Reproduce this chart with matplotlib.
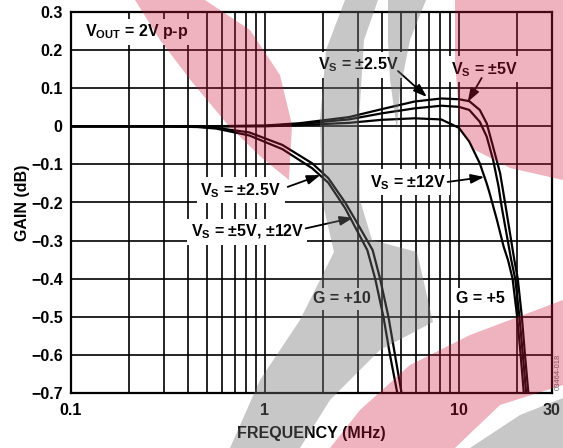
import matplotlib
matplotlib.use('Agg')
import matplotlib.pyplot as plt
from matplotlib.patches import Polygon

plt.rcParams['font.family'] = ['Liberation Sans', 'DejaVu Sans']
plt.rcParams['font.weight'] = 'bold'
plt.rcParams['axes.labelweight'] = 'bold'
plt.rcParams['mathtext.fontset'] = 'custom'
plt.rcParams['mathtext.rm'] = 'Liberation Sans:bold'
plt.rcParams['mathtext.it'] = 'Liberation Sans:bold'
plt.rcParams['mathtext.bf'] = 'Liberation Sans:bold'

# G = +5, three supplies
g5_vs25_freq = [0.1, 0.5, 1.0, 1.5, 2.7, 4.0, 5.9, 8.1, 10.0, 11.3, 12.8, 13.9, 15.0, 16.3, 17.3, 19.3, 20.1, 21.1, 21.9, 22.8]
g5_vs25_gain = [0, 0, 0.002, 0.008, 0.024, 0.045, 0.065, 0.073, 0.071, 0.066, 0.043, 0.008, -0.054, -0.123, -0.202, -0.351, -0.40, -0.50, -0.60, -0.70]
g5_vs5_freq = [0.1, 0.5, 1.0, 1.5, 2.7, 4.0, 5.9, 8.1, 10.0, 11.3, 12.8, 13.9, 15.0, 16.0, 16.6, 18.6, 19.5, 20.5, 21.35, 22.2]
g5_vs5_gain = [0, 0, 0.001, 0.006, 0.018, 0.034, 0.047, 0.054, 0.051, 0.043, 0.012, -0.027, -0.088, -0.158, -0.211, -0.351, -0.40, -0.50, -0.60, -0.70]
g5_vs12_freq = [0.1, 0.5, 1.0, 1.5, 2.7, 4.0, 5.9, 8.1, 10.0, 11.3, 12.8, 13.9, 14.4, 15.7, 17.0, 17.9, 18.9, 19.95, 20.8, 21.6]
g5_vs12_gain = [0, 0, 0, 0.003, 0.009, 0.017, 0.021, 0.018, -0.004, -0.040, -0.097, -0.150, -0.176, -0.246, -0.316, -0.351, -0.40, -0.50, -0.60, -0.70]

# G = +10, two curves
g10_a_freq = [0.1, 0.3, 0.45, 0.56, 0.83, 1.23, 1.75, 2.12, 2.59, 2.92, 3.37, 3.70, 4.08, 4.41, 4.81]
g10_a_gain = [0, 0, -0.002, -0.006, -0.024, -0.060, -0.110, -0.148, -0.215, -0.265, -0.325, -0.40, -0.50, -0.60, -0.70]
g10_b_freq = [0.1, 0.3, 0.45, 0.56, 0.83, 1.23, 1.75, 2.12, 2.59, 2.92, 3.59, 3.92, 4.33, 4.68, 5.06]
g10_b_gain = [0, 0, -0.001, -0.004, -0.016, -0.049, -0.097, -0.136, -0.200, -0.245, -0.325, -0.40, -0.50, -0.60, -0.70]

xticks = [0.1, 1, 10, 30]
xticklabels = ['0.1', '1', '10', '30']
xminor = [0.2, 0.3, 0.4, 0.5, 0.6, 0.7, 0.8, 0.9, 2, 3, 4, 5, 6, 7, 8, 9, 20]
yticks = [-0.7, -0.6, -0.5, -0.4, -0.3, -0.2, -0.1, 0, 0.1, 0.2, 0.3]
yticklabels = ['\u22120.7', '\u22120.6', '\u22120.5', '\u22120.4', '\u22120.3', '\u22120.2', '\u22120.1', '0', '0.1', '0.2', '0.3']

fig = plt.figure(figsize=(5.63, 4.48), dpi=100)
ax = fig.add_axes([71/563, 1 - 393/448, (551.5 - 71)/563, (393 - 12)/448])
ax.set_xscale('log')
ax.set_xlim(0.1, 30)
ax.set_ylim(-0.7, 0.3)
ax.set_xticks(xticks)
ax.set_xticklabels(xticklabels)
ax.set_xticks(xminor, minor=True)
ax.set_xticklabels([], minor=True)
ax.set_yticks(yticks)
ax.set_yticklabels(yticklabels)
ax.tick_params(which='both', length=0, labelsize=11.5)
ax.tick_params(axis='x', pad=7)
ax.tick_params(axis='y', pad=6)
ax.grid(which='both', color='k', lw=1.2)
for s in ax.spines.values():
    s.set_linewidth(1.6)

lw = 1.6
for f, g in [(g5_vs25_freq, g5_vs25_gain), (g5_vs5_freq, g5_vs5_gain),
             (g5_vs12_freq, g5_vs12_gain), (g10_a_freq, g10_a_gain),
             (g10_b_freq, g10_b_gain)]:
    ax.plot(f, g, color='k', lw=lw, solid_joinstyle='round', zorder=3)

ax.set_xlabel('FREQUENCY (MHz)', fontsize=11.5, labelpad=6)
ax.set_ylabel('GAIN (dB)', fontsize=11.5, labelpad=1)

box = dict(facecolor='white', edgecolor='none', pad=2.5)
fs = 11.5
ax.text(0.1175, 0.248, r'V$_{\rm OUT}$ = 2V p-p', fontsize=fs, ha='left', va='center', bbox=box, zorder=4)
ax.text(0.75, -0.168, r'V$_{\rm S}$ = ±2.5V', fontsize=fs, ha='center', va='center', bbox=box, zorder=4)
ax.text(0.81, -0.277, r'V$_{\rm S}$ = ±5V, ±12V', fontsize=fs, ha='center', va='center', bbox=box, zorder=4)
ax.text(3.04, 0.161, r'V$_{\rm S}$ = ±2.5V', fontsize=fs, ha='center', va='center', bbox=box, zorder=4)
ax.text(13.5, 0.150, r'V$_{\rm S}$ = ±5V', fontsize=fs, ha='center', va='center', bbox=box, zorder=4)
ax.text(5.48, -0.147, r'V$_{\rm S}$ = ±12V', fontsize=fs, ha='center', va='center', bbox=box, zorder=4)
ax.text(2.49, -0.453, 'G = +10', fontsize=fs, ha='center', va='center', bbox=box, zorder=4)
ax.text(12.9, -0.453, 'G = +5', fontsize=fs, ha='center', va='center', bbox=box, zorder=4)

arrow = dict(arrowstyle='-|>,head_length=0.8,head_width=0.28', color='k', lw=1.3, shrinkA=0, shrinkB=0)
ax.annotate('', xy=(1.93, -0.128), xytext=(1.31, -0.159), arrowprops=arrow, zorder=4)
ax.annotate('', xy=(2.85, -0.240), xytext=(1.62, -0.268), arrowprops=arrow, zorder=4)
ax.annotate('', xy=(6.83, 0.077), xytext=(4.85, 0.145), arrowprops=arrow, zorder=4)
ax.annotate('', xy=(11.1, 0.064), xytext=(13.1, 0.127), arrowprops=arrow, zorder=4)
ax.annotate('', xy=(13.5, -0.133), xytext=(8.74, -0.146), arrowprops=arrow, zorder=4)

fig.text(0.992, 0.17, '03464-018', rotation=90, fontsize=5.5, fontweight='normal',
         color='0.4', ha='center', va='center')

# faint logo watermark laid over the whole picture
wm = fig.add_axes([0, 0, 1, 1], zorder=10)
wm.set_xlim(0, 563)
wm.set_ylim(448, 0)
wm.axis('off')
pink = (0.80, 0.10, 0.24)
grey = (0.45, 0.45, 0.45)
wm.add_patch(Polygon([(135, 0), (205, 0), (250, 30), (280, 75), (292, 125), (289, 180),
                      (262, 158), (228, 125), (192, 82), (160, 40)], closed=True,
                     fc=pink, ec='none', alpha=0.33))
wm.add_patch(Polygon([(455, 0), (563, 0), (563, 180), (510, 168), (475, 150), (460, 128),
                      (455, 60)], closed=True, fc=pink, ec='none', alpha=0.33))
wm.add_patch(Polygon([(330, 448), (360, 410), (410, 365), (470, 335), (563, 300), (563, 385),
                      (500, 405), (455, 448)], closed=True, fc=pink, ec='none', alpha=0.33))
# grey swoosh: narrow upright band that opens into a blade lower down
wm.add_patch(Polygon([(345, 0), (378, 0), (364, 40), (359, 120), (360, 200), (372, 240),
                      (417, 252), (433, 322), (380, 350), (330, 400), (300, 448), (230, 448),
                      (260, 380), (300, 320), (334, 252), (322, 200), (320, 120), (326, 50)],
                     closed=True, fc=grey, ec='none', alpha=0.4))
wm.add_patch(Polygon([(388, 0), (426, 0), (410, 40), (400, 90), (397, 130), (390, 80),
                      (388, 40)], closed=True, fc=grey, ec='none', alpha=0.4))
wm.add_patch(Polygon([(470, 448), (520, 415), (563, 398), (563, 448)], closed=True,
                     fc=grey, ec='none', alpha=0.4))

fig.savefig('out.png', dpi=100)
